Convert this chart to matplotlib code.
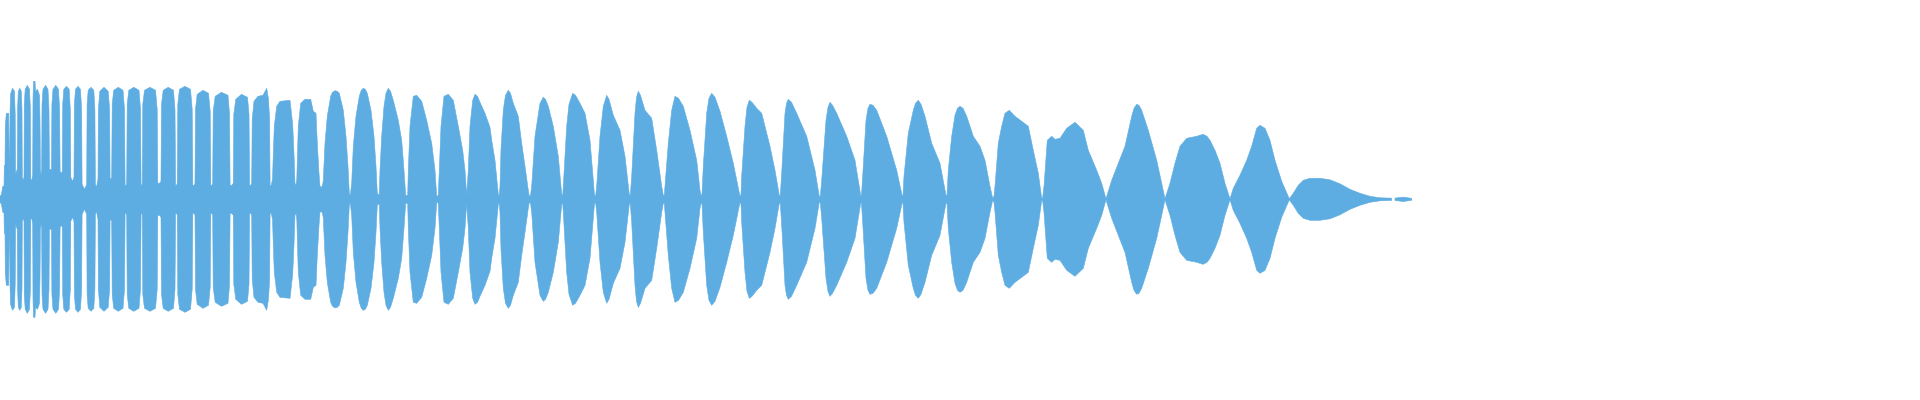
import numpy as np
import matplotlib
matplotlib.use("Agg")
import matplotlib.pyplot as plt

# Waveform envelope (upper half; the shape is mirrored around 0).
dense_t = [0, 1.5, 2.7, 4.0, 4.3, 5.0, 5.3, 6.3, 8.7, 9.2, 9.6,
           10.0, 10.5, 12.5, 14.5, 15.2, 15.6, 16.5,
           17.3, 17.6, 18.3, 19.8, 21.3, 22.0, 22.3, 23.3,
           24.0, 24.3, 25.2, 27.3, 29.5, 30.4, 30.8, 31.8,
           32.7, 33.0, 33.5, 35.0, 35.5, 37.5, 39.5, 40.0, 40.4, 41.0,
           41.7, 42.0, 43.0, 45.5, 48.0, 49.0, 49.4, 50.5,
           51.5, 51.9, 53.0, 55.8, 58.5, 59.6, 60.1, 61.3,
           62.3, 62.7, 63.8, 66.5, 69.2, 70.3, 70.8, 72.5,
           74.0, 74.4, 75.5, 78.0, 80.5, 81.6, 82.1, 84.5,
           86.7, 87.1, 88.2, 91.0, 93.8, 94.9, 95.4, 96.5,
           98.0, 98.4, 99.8, 104.0, 108.2, 109.6, 110.1, 111.0,
           111.7, 112.2, 113.7, 118.3, 123.0, 124.5, 125.1, 126.0,
           126.7, 127.2, 128.8, 133.8, 139.0, 140.5, 141.1, 141.8,
           142.3, 142.8, 144.5, 150.0, 155.5, 157.2, 157.8, 159.5,
           161.0, 161.5, 163.2, 168.2, 173.5, 175.0, 175.6, 176.5,
           177.3, 177.8, 179.5, 185.0, 190.5, 192.2, 192.8, 194.0,
           195.0, 195.5, 197.2, 203.0, 208.5, 210.2, 210.8, 211.8,
           212.7, 213.2, 215.2, 221.5, 228.0, 229.5, 230.1, 231.7,
           233.3, 233.8, 235.8, 241.5, 247.5, 249.0, 249.6, 250.7,
           251.7, 252.2, 254.0, 258.0, 263.0, 266.7, 268.5, 269.6, 270.1, 271.2,
           272.5, 273.3, 274.3, 276.7, 280.0, 290.0, 292.7, 294.0, 295.0, 296.0,
           296.8, 297.3, 298.3, 300.7, 305.0, 310.7, 313.3, 316.0, 317.3, 319.0, 320.0, 321.5]
dense_amp = [3, 5, 13, 13, 34, 34, 73, 86, 86, 30, 20,
             85, 105, 111, 108, 85, 25, 28,
             30, 90, 108, 111, 108, 90, 22, 19,
             22, 95, 110, 114, 110, 90, 20, 19,
             25, 100, 118, 118, 108, 110, 104, 80, 30, 25,
             30, 95, 110, 114, 110, 90, 30, 30,
             30, 95, 110, 114, 110, 90, 28, 26,
             28, 95, 110, 113, 110, 90, 22, 18,
             22, 95, 110, 113, 110, 90, 15, 10,
             15, 95, 109, 112, 109, 90, 15, 12,
             20, 90, 108, 112, 108, 90, 20, 21,
             21, 95, 109, 112, 109, 90, 14, 14,
             16, 95, 109, 112, 109, 90, 14, 14,
             16, 95, 109, 112, 109, 90, 16, 16,
             18, 95, 109, 112, 109, 90, 14, 14,
             16, 95, 110, 113, 110, 90, 14, 14,
             16, 90, 105, 109, 106, 88, 14, 14,
             16, 88, 103, 107, 104, 86, 14, 14,
             16, 85, 100, 105, 102, 85, 14, 14,
             16, 80, 98, 103, 104, 111, 100, 80, 14, 14,
             20, 45, 73, 93, 98, 99, 75, 45, 16, 14,
             20, 39, 73, 96, 100, 100, 88, 86, 56, 26, 13, 12]

wide_t = [322.7, 323.3, 325.0, 327.3, 330.7, 335.0, 339.3, 343.3, 346.0, 348.0, 349.3, 350.3,
          351.7, 353.3, 356.0, 359.3, 363.3, 367.3, 371.0, 374.0, 376.0, 377.3, 378.3,
          379.3, 380.0, 381.7, 384.0, 388.3, 393.3, 398.3, 401.7, 404.0, 405.7,
          407.7, 408.3, 410.0, 413.3, 416.7, 421.7, 426.7, 431.7, 435.0, 436.7,
          438.3, 439.3, 441.0, 444.0, 448.3, 453.3, 458.3, 462.7, 465.0, 466.7,
          468.3, 470.0, 472.7, 475.0, 480.0, 485.0, 490.0, 491.7, 495.0, 498.3,
          499.3, 500.0, 501.0, 503.3, 508.3, 513.3, 518.3, 521.7, 525.0, 528.3, 529.3,
          530.5, 531.7, 535.0, 540.0, 543.3, 548.3, 553.3, 558.3, 561.7,
          562.7, 563.3, 566.7, 569.0, 572.7, 580.0, 585.0, 590.0, 593.3, 594.5,
          595.7, 596.7, 600.0, 603.3, 606.7, 613.3, 620.0, 625.0, 629.3,
          630.3, 631.7, 635.0, 638.3, 645.0, 651.7, 656.7, 661.7, 663.3,
          664.3, 665.0, 668.3, 671.7, 675.0, 683.3, 690.0, 696.7, 700.0, 701.0,
          702.0, 703.3, 706.7, 711.7, 720.0, 726.7, 733.3, 740.0,
          741.0, 741.7, 745.0, 749.3, 756.7, 761.7, 770.0, 775.0, 779.3,
          780.3, 781.7, 785.0, 788.3, 796.7, 806.7, 815.0, 819.3,
          820.3, 821.7, 826.0, 830.0, 836.7, 846.7, 855.0, 860.7,
          861.5, 862.7, 866.0, 870.0, 876.7, 886.7, 896.7, 902.3,
          903.0, 904.0, 908.3, 913.3, 918.3, 925.0, 931.7, 940.0, 946.0,
          947.0, 948.3, 951.7, 955.0, 960.0, 966.7, 973.3, 980.0, 985.0, 990.0, 992.7,
          994.0, 995.0, 998.3, 1001.7, 1005.0, 1009.3, 1015.0, 1021.7, 1028.3, 1033.3, 1038.3, 1041.7,
          1042.7, 1044.0, 1047.3, 1051.7, 1055.0, 1060.0, 1066.7, 1075.0, 1083.3, 1088.3, 1096.7, 1101.7, 1106.0,
          1111.7, 1118.3, 1125.0, 1131.7, 1136.7, 1141.7, 1148.3, 1156.7, 1161.7, 1165.0,
          1170.0, 1175.0, 1180.0, 1186.7, 1196.7, 1203.0, 1207.0, 1210.0, 1215.0, 1220.0, 1225.0, 1230.0,
          1233.3, 1240.0, 1246.7, 1251.7, 1256.7, 1260.0, 1265.0, 1270.0, 1275.0, 1281.7, 1289.3]
wide_amp = [15, 19, 56, 83, 103, 108.6, 106, 89, 63, 33, 6, 4,
            16, 53, 83, 103, 111, 106, 89, 63, 33, 6, 5,
            5, 29, 63, 93, 111, 99, 79, 59, 29, 4,
            4, 29, 73, 103, 104, 98, 79, 56, 29, 3,
            4, 29, 73, 103, 105, 99, 73, 49, 29, 4,
            29, 73, 99, 105, 97, 86, 72, 59, 39, 5,
            4, 13, 50, 89, 109, 96, 83, 56, 33, 9, 3,
            4, 13, 63, 96, 102, 93, 73, 43, 5,
            4, 13, 73, 95, 106, 96, 86, 59, 19, 4,
            4, 13, 63, 93, 104, 84, 69, 43, 5,
            4, 23, 86, 108, 89, 81, 49, 13, 4,
            4, 13, 56, 89, 103, 93, 69, 39, 9, 4,
            5, 33, 86, 106, 88, 63, 36, 3,
            5, 23, 73, 99, 91, 86, 53, 29, 4,
            4, 26, 86, 100, 86, 63, 29, 3,
            3, 19, 79, 97, 86, 63, 39, 4,
            4, 23, 79, 95, 89, 63, 29, 3,
            4, 23, 66, 89, 99, 83, 56, 36, 4,
            4, 29, 63, 84, 93, 83, 63, 53, 39, 13, 1,
            3, 13, 56, 73, 86, 89, 83, 78, 73, 49, 26, 1,
            2, 13, 59, 63, 60, 61, 71, 77, 69, 49, 29, 16, 0.5,
            19, 36, 53, 83, 95, 89, 69, 39, 16, 0.5,
            16, 36, 53, 61, 63, 65, 63, 59, 49, 36, 16, 0.5,
            11, 24, 39, 53, 71, 74, 71, 59, 39, 18, 0.5]

# Extra points read around the rounded lobe crests
cap_t = [332.5, 337.3, 361.3, 365.3, 386.0, 390.5, 477.5, 505.5, 510.5, 545.5,
         575.5, 609.0, 636.5, 640.5, 678.5, 709.0, 715.0, 747.0, 752.0, 786.5,
         791.5, 828.0, 832.5, 868.0, 873.0, 915.5, 921.0, 957.5, 963.0, 1134.0, 1139.0]
cap_amp = [107, 108, 109, 110, 106, 108, 103, 104, 106, 100,
           104, 100, 102, 104, 101, 101, 102, 92, 97, 96,
           97, 92, 94, 91, 94, 96, 95, 91, 91, 91, 94]

tail_t = [1293.3, 1298.3, 1303.3, 1310.0, 1320.0, 1330.0, 1340.0, 1350.0, 1360.0,
          1370.0, 1380.0, 1390.0, 1391.5, 1393.0, 1395.0, 1403.3, 1410.0, 1411.7]
tail_amp = [6, 14, 19, 21, 21, 19.5, 15.5, 10, 6,
            3, 1.5, 1.2, 1.2, np.nan, 1.2, 2.2, 1.2, 1.0]

t = np.array(dense_t + wide_t + cap_t + tail_t, dtype=float)
amp = np.array(dense_amp + wide_amp + cap_amp + tail_amp, dtype=float)
order = np.argsort(t, kind="stable")
t, amp = t[order], amp[order]

fig = plt.figure(figsize=(19.2, 4), dpi=100)
ax = fig.add_axes([0, 0, 1, 1])
ax.fill_between(t, -amp, amp, color="#5DADE2", linewidth=0.4, edgecolor="#5DADE2")
ax.set_xlim(0, 1920)
ax.set_ylim(-200.7, 199.3)
ax.axis("off")
fig.savefig("out.png", dpi=100, facecolor="white")
